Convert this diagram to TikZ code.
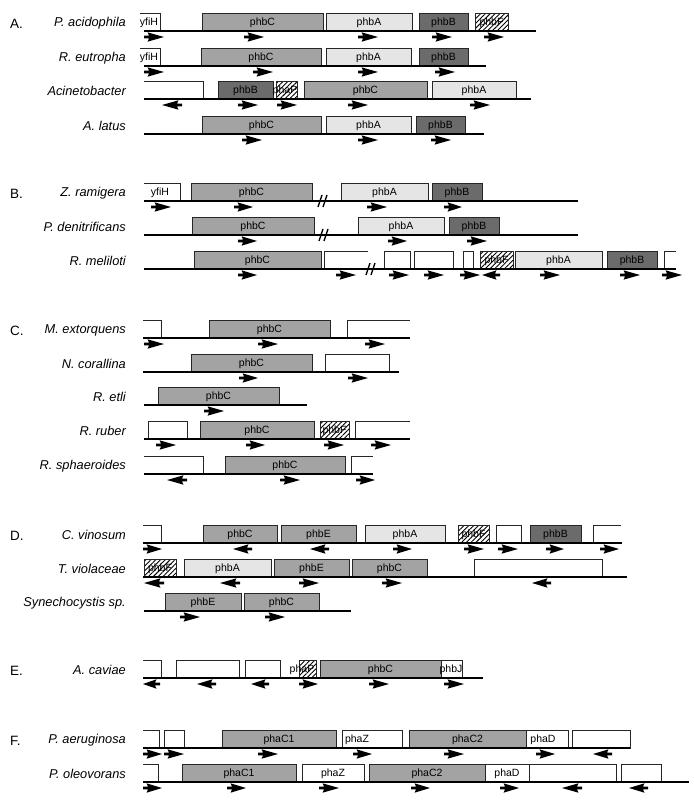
\documentclass[tikz,border=0pt]{standalone}
\usepackage{fontspec}
\setmainfont{Liberation Sans}
\usetikzlibrary{patterns.meta}
\tikzset{
 chrom/.style={line width=2.4pt, line cap=butt},
 gb/.style={draw=black!85, line width=0.75pt},
 cst/.style={gb, fill=black!36},
 ast/.style={gb, fill=black!10},
 bst/.style={gb, fill=black!58},
 hst/.style={gb, pattern={Lines[angle=45,distance=3.4pt,line width=0.9pt]}},
 wst/.style={gb, fill=white},
 glab/.style={font=\fontsize{10.5}{11}\selectfont, inner sep=0pt},
 slab/.style={font=\fontsize{12.8}{14}\selectfont\itshape, anchor=east, inner sep=0pt},
 sec/.style={font=\fontsize{13.5}{14}\selectfont, anchor=west, inner sep=0pt},
 brk/.style={line width=1.3pt},
}
\newcommand{\Gn}[5]{\draw[#4] (#1,#3-17.5) rectangle (#2,#3); \node[glab] at ({(#1+#2)/2},#3-8.5) {#5};}
\newcommand{\Gb}[4]{\draw[#4] (#1,#3-17.5) rectangle (#2,#3);}
\newcommand{\Tx}[3]{\node[glab] at (#1,#2-8.5) {#3};}
\newcommand{\Lo}[3]{\draw[gb] (#1,#3-17.5) -- (#2,#3-17.5) -- (#2,#3);}
\newcommand{\Ro}[3]{\draw[gb] (#1,#3) -- (#1,#3-17.5) -- (#2,#3-17.5);}
\newcommand{\Ch}[3]{\draw[chrom] (#1,#3) -- (#2,#3);}
\newcommand{\Ar}[3]{\fill (#1,#3+4.6) -- (#1+5,#3+4.6) -- (#1+3.5,#3+1.3) -- (#2,#3+6) -- (#1+3.5,#3+10.7) -- (#1+5,#3+7.4) -- (#1,#3+7.4) -- cycle;}
\newcommand{\Al}[3]{\fill (#2,#3+4.6) -- (#2-5,#3+4.6) -- (#2-3.5,#3+1.3) -- (#1,#3+6) -- (#2-3.5,#3+10.7) -- (#2-5,#3+7.4) -- (#2,#3+7.4) -- cycle;}
\newcommand{\Bk}[2]{\draw[brk] (#1-5,#2+6) -- (#1-1,#2-6) (#1,#2+6) -- (#1+4,#2-6);}
\newcommand{\Sp}[2]{\node[slab] at (126,#1-8) {#2};}
\newcommand{\Sc}[2]{\node[sec] at (10,#1-7) {#2};}
\begin{document}
\begin{tikzpicture}[x=1pt,y=-1pt]
\useasboundingbox (0,0) rectangle (693,802);
% ---------- A ----------
\Sc{31}{A.}
\Sp{31}{P. acidophila}
\Lo{140}{160}{31} \Tx{149}{31}{yfiH}
\Gn{202}{323}{31}{cst}{phbC}
\Gn{326}{412}{31}{ast}{phbA}
\Gn{419}{468}{31}{bst}{phbB}
\Gn{475}{508}{31}{hst}{phbF}
\Ch{144}{536}{31}
\Ar{144}{164}{31} \Ar{244}{264}{31} \Ar{358}{378}{31} \Ar{432}{452}{31} \Ar{484}{504}{31}

\Sp{66}{R. eutropha}
\Lo{140}{160}{66} \Tx{149}{66}{yfiH}
\Gn{201}{321}{66}{cst}{phbC}
\Gn{326}{411}{66}{ast}{phbA}
\Gn{419}{468}{66}{bst}{phbB}
\Ch{144}{486}{66}
\Ar{144}{164}{66} \Ar{253}{273}{66} \Ar{358}{378}{66} \Ar{435}{455}{66}

\Sp{99}{Acinetobacter}
\Lo{144}{203}{99}
\Gn{218}{273}{99}{bst}{phbB}
\Gb{276}{297}{99}{hst} \Tx{285}{99}{phaP}
\Gn{304}{427}{99}{cst}{phbC}
\Gn{432}{516}{99}{ast}{phbA}
\Ch{144}{531}{99}
\Al{162}{182}{99} \Ar{238}{258}{99} \Ar{277}{297}{99} \Ar{348}{368}{99} \Ar{470}{490}{99}

\Sp{134}{A. latus}
\Gn{202}{321}{134}{cst}{phbC}
\Gn{326}{411}{134}{ast}{phbA}
\Gn{416}{465}{134}{bst}{phbB}
\Ch{144}{484}{134}
\Ar{242}{262}{134} \Ar{358}{378}{134} \Ar{431}{451}{134}
% ---------- B ----------
\Sc{201}{B.}
\Sp{201}{Z. ramigera}
\Lo{144}{180}{201} \Tx{160}{201}{yfiH}
\Gn{191}{312}{201}{cst}{phbC}
\Gn{341}{428}{201}{ast}{phbA}
\Gn{432}{482}{201}{bst}{phbB}
\Ch{144}{578}{201}
\Bk{323}{201}
\Ar{151}{171}{201} \Ar{234}{253}{201} \Ar{367}{387}{201} \Ar{444}{462}{201}

\Sp{235}{P. denitrificans}
\Gn{192}{314}{235}{cst}{phbC}
\Gn{358}{444}{235}{ast}{phbA}
\Gn{449}{499}{235}{bst}{phbB}
\Ch{144}{578}{235}
\Bk{324}{235}
\Ar{238}{257}{235} \Ar{388}{407}{235} \Ar{467}{487}{235}

\Sp{269}{R. meliloti}
\Gn{194}{321}{269}{cst}{phbC}
\Ro{324}{368}{269}
\Gb{384}{410}{269}{wst}
\Gb{414}{453}{269}{wst}
\Gb{463}{473}{269}{wst}
\Gn{480}{513}{269}{hst}{phbF}
\Gn{515}{602}{269}{ast}{phbA}
\Gn{607}{657}{269}{bst}{phbB}
\Ro{664}{676}{269}
\Ch{144}{676}{269}
\Bk{371}{269}
\Ar{238}{257}{269} \Ar{336}{356}{269} \Ar{389}{409}{269} \Ar{424}{444}{269} \Ar{460}{480}{269}
\Al{482}{500}{269} \Ar{540}{560}{269} \Ar{620}{640}{269} \Ar{662}{682}{269}
% ---------- C ----------
\Sc{338}{C.}
\Sp{338}{M. extorquens}
\Lo{143}{161}{338}
\Gn{209}{330}{338}{cst}{phbC}
\Ro{347}{410}{338}
\Ch{143}{410}{338}
\Ar{144}{164}{338} \Ar{258}{278}{338} \Ar{365}{385}{338}

\Sp{372}{N. corallina}
\Gn{191}{312}{372}{cst}{phbC}
\Gb{325}{389}{372}{wst}
\Ch{143}{399}{372}
\Ar{239}{258}{372} \Ar{348}{368}{372}

\Sp{405}{R. etli}
\Gn{158}{279}{405}{cst}{phbC}
\Ch{144}{307}{405}
\Ar{204}{224}{405}

\Sp{439}{R. ruber}
\Gb{148}{187}{439}{wst}
\Gn{200}{314}{439}{cst}{phbC}
\Gn{320}{349}{439}{hst}{phbF}
\Ro{355}{410}{439}
\Ch{144}{410}{439}
\Ar{156}{176}{439} \Ar{246}{265}{439} \Ar{324}{344}{439} \Ar{371}{391}{439}

\Sp{474}{R. sphaeroides}
\Lo{144}{203}{474}
\Gn{225}{345}{474}{cst}{phbC}
\Ro{351}{373}{474}
\Ch{144}{373}{474}
\Al{167}{187}{474} \Ar{280}{300}{474} \Ar{356}{375}{474}
% ---------- D ----------
\Sc{543}{D.}
\Sp{543}{C. vinosum}
\Lo{143}{161}{543}
\Gn{203}{277}{543}{cst}{phbC}
\Gn{281}{356}{543}{cst}{phbE}
\Gn{365}{445}{543}{ast}{phbA}
\Gn{458}{489}{543}{hst}{phbF}
\Gb{496}{521}{543}{wst}
\Gn{530}{581}{543}{bst}{phbB}
\Ro{593}{621}{543}
\Ch{143}{622}{543}
\Ar{143}{162}{543} \Al{233}{252}{543} \Al{310}{329}{543} \Ar{393}{412}{543}
\Ar{464}{484}{543} \Ar{498}{518}{543} \Ar{546}{564}{543} \Ar{600}{619}{543}

\Sp{577}{T. violaceae}
\Gn{144}{176}{577}{hst}{phbF}
\Gn{184}{271}{577}{ast}{phbA}
\Gn{274}{349}{577}{cst}{phbE}
\Gn{352}{427}{577}{cst}{phbC}
\Gb{474}{602}{577}{wst}
\Ch{143}{627}{577}
\Al{144}{164}{577} \Al{220}{240}{577} \Ar{299}{319}{577} \Ar{382}{402}{577} \Al{532}{551}{577}

\Sp{611}{Synechocystis sp.}
\Gn{165}{241}{611}{cst}{phbE}
\Gn{244}{319}{611}{cst}{phbC}
\Ch{144}{351}{611}
\Ar{180}{200}{611} \Ar{265}{285}{611}
% ---------- E ----------
\Sc{678}{E.}
\Sp{678}{A. caviae}
\Lo{143}{161}{678}
\Gb{176}{239}{678}{wst}
\Gb{245}{280}{678}{wst}
\Gb{299}{316}{678}{hst} \Tx{302}{678}{phaP}
\Gn{320}{441}{678}{cst}{phbC}
\Gb{441}{462}{678}{wst} \Tx{451}{678}{phbJ}
\Ch{143}{483}{678}
\Al{143}{160}{678} \Al{197}{216}{678} \Al{251}{269}{678} \Ar{299}{318}{678} \Ar{369}{389}{678} \Ar{444}{464}{678}
% ---------- F ----------
\Sc{748}{F.}
\Sp{748}{P. aeruginosa}
\Lo{143}{159}{748}
\Gb{164}{184}{748}{wst}
\Gn{222}{336}{748}{cst}{phaC1}
\Gb{342}{402}{748}{wst} \Tx{357}{748}{phaZ}
\Gn{409}{526}{748}{cst}{phaC2}
\Gb{526}{568}{748}{wst} \Tx{543}{748}{phaD}
\Gb{572}{630}{748}{wst}
\Ch{143}{630}{748}
\Ar{143}{162}{748} \Ar{164}{184}{748} \Ar{258}{278}{748} \Ar{353}{372}{748} \Ar{444}{464}{748} \Ar{536}{555}{748} \Al{593}{612}{748}

\Sp{782}{P. oleovorans}
\Lo{143}{158}{782}
\Gn{182}{296}{782}{cst}{phaC1}
\Gn{302}{364}{782}{wst}{phaZ}
\Gn{369}{485}{782}{cst}{phaC2}
\Gn{485}{529}{782}{wst}{phaD}
\Gb{529}{616}{782}{wst}
\Gb{621}{661}{782}{wst}
\Ch{143}{689}{782}
\Ar{143}{162}{782} \Ar{227}{246}{782} \Ar{319}{339}{782} \Ar{411}{430}{782} \Ar{500}{519}{782} \Al{562}{582}{782} \Al{629}{648}{782}
\end{tikzpicture}
\end{document}
